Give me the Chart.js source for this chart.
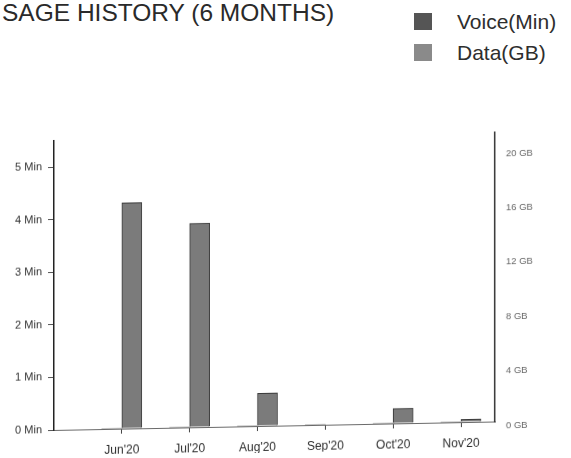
<!DOCTYPE html>
<html>
<head>
<meta charset="utf-8">
<script src="https://cdn.jsdelivr.net/npm/chart.js@4.4.0/dist/chart.umd.min.js"></script>
<style>
    html, body { margin: 0; padding: 0; background: #fff; }
    body { width: 571px; height: 458px; position: relative; overflow: hidden;
           font-family: 'Liberation Sans', Arial, sans-serif; }
    #title { position: absolute; left: 2px; top: -1px; font-size: 24.5px; color: #2a2a2a;
             white-space: nowrap; }
    #legend { position: absolute; left: 414px; top: 6px; }
    .legend-item { display: flex; align-items: center; height: 31px; font-size: 21px; color: #2e2e2e; }
    .legend-box { width: 18px; height: 17px; margin-right: 25px; }
    #chart { position: absolute; left: 0; top: 0; transform: skewY(-1.1deg); transform-origin: 0 0; }
</style>
</head>
<body>
<div id="title">SAGE HISTORY (6 MONTHS)</div>
<div id="legend"></div>
<canvas id="chart" width="571" height="458"></canvas>
<script>
/* ── Usage history data ── */

const months   = ["Jun'20", "Jul'20", "Aug'20", "Sep'20", "Oct'20", "Nov'20"];
const voiceMin = [0, 0, 0, 0, 0, 0];
const dataGB   = [16.6, 15.0, 2.4, 0, 1.1, 0.2];
const minTicks = [0, 1, 2, 3, 4, 5];
const gbTicks  = [0, 4, 8, 12, 16, 20];

const voiceColor = '#555555';
const dataColor  = '#7b7b7b';
const font       = `'Liberation Sans', Arial, sans-serif`;

document.getElementById('legend').innerHTML = [
    { color: voiceColor, label: 'Voice(Min)' },
    { color: '#8a8a8a',  label: 'Data(GB)'   },
].map(({ color, label }) => `
    <div class="legend-item">
        <span class="legend-box" style="background:${color}"></span>
        <span>${label}</span>
    </div>`).join('');

// fixed tick sets, no auto-generated max tick
const keepTicks = list => scale => {
    scale.ticks = list.map(v => ({ value: v }));
};

new Chart(document.getElementById('chart').getContext('2d'), {
    type: 'bar',
    data: {
        datasets: [{
            label:           'Voice(Min)',
            data:            voiceMin.map((v, i) => ({ x: i, y: v })),
            yAxisID:         'yMin',
            backgroundColor: voiceColor,
            borderWidth:     0,
            barThickness:    20,
        }, {
            label:           'Data(GB)',
            data:            dataGB.map((v, i) => ({ x: i, y: v })),
            yAxisID:         'yGB',
            backgroundColor: dataColor,
            borderColor:     '#3a3a3a',
            borderWidth:     1,
            barThickness:    20,
        }]
    },
    options: {
        responsive: false,
        animation:  false,
        events:     [],
        layout:     { padding: { top: 142, left: 0, right: 0, bottom: 0 } },
        plugins:    { legend: { display: false }, title: { display: false }, tooltip: { enabled: false } },
        scales: {
            x: {
                type: 'linear',
                position: 'bottom',
                offset: false,
                min: -1,
                max: 5.5,
                afterBuildTicks: keepTicks(months.map((m, i) => i)),
                afterFit(scale) { scale.height = 27; },
                grid:   { offset: false, drawOnChartArea: false, drawTicks: true, tickLength: 5, color: '#444' },
                border: { display: true, color: '#6a6a6a', width: 1 },
                ticks:  {
                    autoSkip: false, maxRotation: 0, padding: 9,
                    color: '#2e2e2e', font: { family: font, size: 12 },
                    callback: v => months[v] ?? '',
                },
            },
            yMin: {
                type: 'linear',
                position: 'left',
                min: 0,
                max: 5.5,
                afterBuildTicks: keepTicks(minTicks),
                afterFit(scale) { scale.width = 54; },
                grid:   { drawOnChartArea: false, drawTicks: true, tickLength: 6, color: '#555' },
                border: { display: true, color: '#222', width: 1.5 },
                ticks:  {
                    padding: 6, color: '#333', font: { family: font, size: 11 },
                    callback: v => `${v} Min`,
                },
            },
            yGB: {
                type: 'linear',
                position: 'right',
                min: 0,
                max: 21.25,
                afterBuildTicks: keepTicks(gbTicks),
                afterFit(scale) { scale.width = 76; },
                grid:   { drawOnChartArea: false, drawTicks: false },
                border: { display: true, color: '#333', width: 1.5 },
                ticks:  {
                    padding: 11, labelOffset: 4, color: '#666', font: { family: font, size: 9.5 },
                    callback: v => `${v} GB`,
                },
            },
        },
    },
});
</script>
</body>
</html>
